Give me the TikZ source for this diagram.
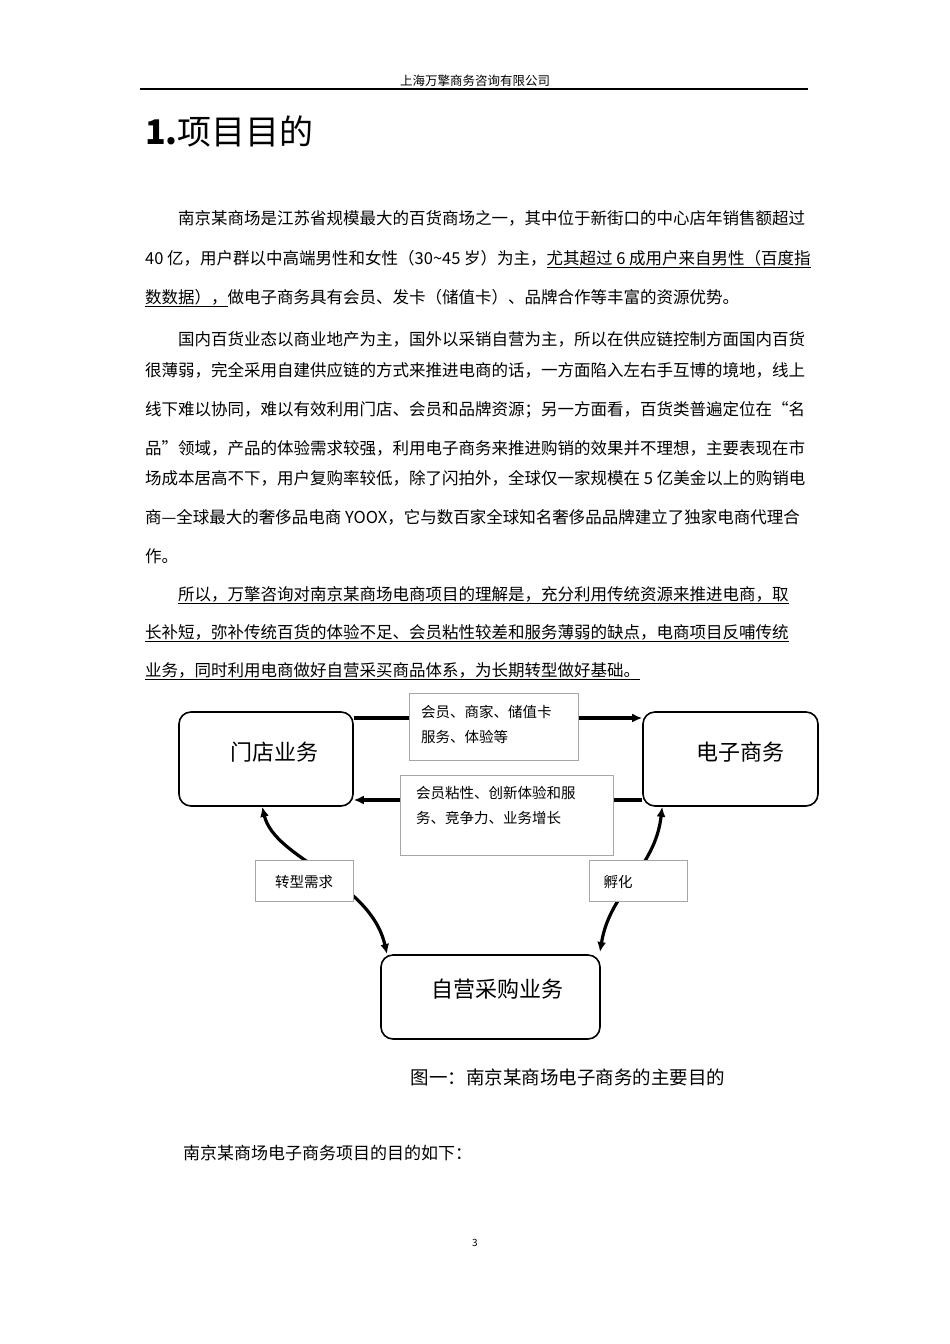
\documentclass[tikz,border=0pt]{standalone}
\usepackage{fontspec}
\setmainfont{Noto Sans CJK SC}
\usetikzlibrary{arrows.meta}
\begin{document}
\begin{tikzpicture}[x=1pt,y=-1pt,
  ln/.style={anchor=base west,inner sep=0pt,font=\fontsize{16.5}{18}\selectfont},
  bigbox/.style={draw,line width=1.6pt,rounded corners=12pt,inner sep=0pt},
  lab/.style={draw=black!35,line width=0.5pt,fill=white,inner sep=0pt},
  arr/.style={line width=3.6pt,-{Latex[length=10pt,width=9pt]}},
  biarr/.style={line width=3.2pt,{Latex[length=10pt,width=9pt]}-{Latex[length=10pt,width=9pt]}}]
\useasboundingbox (0,0) rectangle (950,1344);
\node[font=\fontsize{12.5}{14}\selectfont,anchor=base] (hdr) at (475,85) {上海万擎商务咨询有限公司};
\coordinate (hl) at (140,89); \coordinate (hr) at (808,89);
\draw[line width=1.3pt] (hl) -- (hr);
\node[anchor=base west,inner sep=0pt,font=\fontsize{34}{38}\selectfont] (title) at (145,144) {\textbf{1.}项目目的};
\node[ln] (l1) at (178,224) {南京某商场是江苏省规模最大的百货商场之一，其中位于新街口的中心店年销售额超过};
\node[ln] (l2) at (145,264) {40 亿，用户群以中高端男性和女性（30\textasciitilde45 岁）为主，\underline{尤其超过 6 成用户来自男性（百度指}};
\node[ln] (l3) at (145,303) {\underline{数数据），}做电子商务具有会员、发卡（储值卡）、品牌合作等丰富的资源优势。};
\node[ln] (l4) at (178,345) {国内百货业态以商业地产为主，国外以采销自营为主，所以在供应链控制方面国内百货};
\node[ln] (l5) at (145,376) {很薄弱，完全采用自建供应链的方式来推进电商的话，一方面陷入左右手互博的境地，线上};
\node[ln] (l6) at (145,415) {线下难以协同，难以有效利用门店、会员和品牌资源；另一方面看，百货类普遍定位在“名};
\node[ln] (l7) at (145,454) {品”领域，产品的体验需求较强，利用电子商务来推进购销的效果并不理想，主要表现在市};
\node[ln] (l8) at (145,484) {场成本居高不下，用户复购率较低，除了闪拍外，全球仅一家规模在 5 亿美金以上的购销电};
\node[ln] (l9) at (145,523) {商—全球最大的奢侈品电商 YOOX，它与数百家全球知名奢侈品品牌建立了独家电商代理合};
\node[ln] (l10) at (145,562) {作。};
\node[ln] (l11) at (178,600) {\underline{所以，万擎咨询对南京某商场电商项目的理解是，充分利用传统资源来推进电商，取}};
\node[ln] (l12) at (145,638) {\underline{长补短，弥补传统百货的体验不足、会员粘性较差和服务薄弱的缺点，电商项目反哺传统}};
\node[ln] (l13) at (145,676) {\underline{业务，同时利用电商做好自营采买商品体系，为长期转型做好基础。}};
% diagram
\node[bigbox,minimum width=174pt,minimum height=94pt] (md) at (266,759) {};
\node[font=\fontsize{22}{24}\selectfont] (mdt) at (274,752) {门店业务};
\node[bigbox,minimum width=175pt,minimum height=94pt] (ec) at (730.5,759) {};
\node[font=\fontsize{22}{24}\selectfont] (ect) at (740,752) {电子商务};
\node[bigbox,minimum width=219pt,minimum height=84pt] (zy) at (490.5,997) {};
\node[font=\fontsize{22}{24}\selectfont] (zyt) at (497,989) {自营采购业务};
\draw[arr] (md.north east |- 0,718) coordinate (a1) -- (ec.north west |- 0,718);
\draw[arr] (ec.south west |- 0,800) -- (md.south east |- 0,800);
\node[lab,minimum width=169pt,minimum height=67pt] (t1) at (493.5,726.5) {};
\node[anchor=north west,align=left,font=\fontsize{14.5}{25}\selectfont,inner sep=0pt] (t1t) at (421,705) {会员、商家、储值卡\\服务、体验等};
\node[lab,minimum width=213pt,minimum height=80pt] (t2) at (506.5,815) {};
\node[anchor=north west,align=left,font=\fontsize{14.5}{25}\selectfont,inner sep=0pt] (t2t) at (416,786) {会员粘性、创新体验和服\\务、竞争力、业务增长};
\draw[biarr] (md.south west) ++(84,0) coordinate (p1) (p1) .. controls (275,860) and (370,880) .. (387,954);
\draw[biarr] (ec.south west) ++(20,0) coordinate (p2) (p2) .. controls (655,870) and (610,890) .. (600,952);
\node[lab,minimum width=98pt,minimum height=41pt] (t3) at (304,880.5) {};
\node[font=\fontsize{14.5}{16}\selectfont] (t3t) at (304,882) {转型需求};
\node[lab,minimum width=98pt,minimum height=41pt] (t4) at (638,880.5) {};
\node[anchor=west,font=\fontsize{14.5}{16}\selectfont] (t4t) at (600,882) {孵化};
\node[anchor=base,font=\fontsize{18.5}{20}\selectfont] (cap) at (568,1084) {图一：南京某商场电子商务的主要目的};
\node[ln,font=\fontsize{17}{19}\selectfont] (l14) at (183,1159) {南京某商场电子商务项目的目的如下：};
\node[anchor=base,font=\fontsize{10}{12}\selectfont] (pg) at (475,1246) {3};
\end{tikzpicture}
\end{document}
